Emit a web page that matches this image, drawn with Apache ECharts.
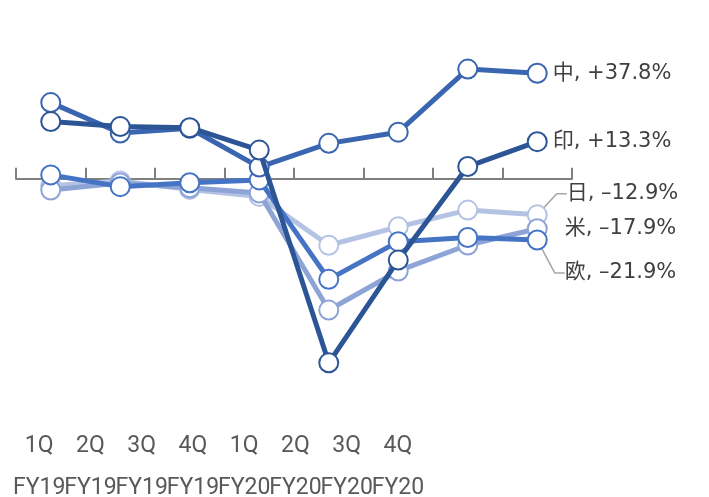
<!DOCTYPE html>
<html><head><meta charset="utf-8">
<script src="https://cdn.jsdelivr.net/npm/echarts@6/dist/echarts.min.js"></script>
<style>html,body{margin:0;padding:0;background:#fff;}#c{width:709px;height:497px;}</style>
</head><body><div id="c"></div>
<script>
const quarters = ['1Q','2Q','3Q','4Q','1Q','2Q','3Q','4Q'];
const years = ['FY19','FY19','FY19','FY19','FY20','FY20','FY20','FY20'];
const seriesNames = ['日','米','欧','中','印'];
const valJP = [-2.5, -0.8, -3.8, -6.3, -23.8, -17.2, -11.2, -12.9];
const valUS = [-4.0, -1.5, -3.2, -5.1, -47.0, -33.0, -23.7, -17.9];
const valEU = [1.4, -2.8, -1.4, -0.4, -36.0, -22.5, -21.0, -21.9];
const valCN = [27.3, 16.4, 18.1, 4.2, 12.7, 16.7, 39.3, 37.8];
const valIN = [20.5, 18.7, 18.3, 10.3, -65.9, -29.1, 4.4, 13.3];

const categories = quarters.map((q,i)=>q+'\n'+years[i]);
const values = [valJP, valUS, valEU, valCN, valIN];
const colors = ['#b4c2e4','#8ea4d6','#4674c4','#3a65b0','#2c5596'];
const labelShift = [[14,-21,true],[12,0,false],[12,33,true],[0,0,false],[0,0,false]];

function fmt(name, v){
  const s = v >= 0 ? '+' + v.toFixed(1) : '\u2013' + Math.abs(v).toFixed(1);
  return name + ', ' + s + '%';
}

const series = seriesNames.map((name, si) => {
  const vals = values[si];
  const sh = labelShift[si];
  const data = vals.map((v, i) => {
    if (i < vals.length - 1) return v;
    return {
      value: v,
      label: {show: true},
      labelLine: {show: sh[2]}
    };
  });
  return {
    name: name,
    type: 'line',
    xAxisIndex: 0, yAxisIndex: 0,
    data: data,
    symbol: 'circle',
    symbolSize: 19,
    z: 2 + si,
    lineStyle: {color: colors[si], width: 5},
    itemStyle: {color: '#ffffff', borderColor: colors[si], borderWidth: 2},
    label: {
      show: false,
      position: 'right',
      distance: 5,
      color: '#404040',
      fontSize: 21,
      fontFamily: 'DejaVu Sans, "Noto Sans CJK JP", sans-serif',
      formatter: p => fmt(name, p.value)
    },
    labelLine: {lineStyle: {color: '#a6a6a6', width: 1.5}, length2: 10},
    labelLayout: {dx: sh[0], dy: sh[1]},
    emphasis: {disabled: true}
  };
});

series.push({
  type: 'line', xAxisIndex: 1, yAxisIndex: 1,
  data: [], silent: true
});

const chart = echarts.init(document.getElementById('c'), null, {renderer: 'canvas'});
chart.setOption({
  animation: false,
  backgroundColor: '#ffffff',
  grid: [
    {left: 16, right: 137, top: 39.2, height: 363},
    {left: 13.5, width: 410, top: 415, height: 10}
  ],
  xAxis: [
    {
      type: 'category', gridIndex: 0, data: categories, boundaryGap: true,
      axisLine: {onZero: true, lineStyle: {color: '#808080', width: 2}},
      axisTick: {show: true, inside: true, length: 11, lineStyle: {color: '#808080', width: 2}},
      axisLabel: {show: false},
      splitLine: {show: false}
    },
    {
      type: 'category', gridIndex: 1, data: categories, boundaryGap: true,
      axisLine: {show: false}, axisTick: {show: false},
      axisLabel: {
        show: true, interval: 0, margin: 8,
        color: '#595959', fontSize: 23, lineHeight: 42,
        fontFamily: 'Roboto, sans-serif'
      }
    }
  ],
  yAxis: [
    {type: 'value', gridIndex: 0, min: -80, max: 50, show: false, splitLine: {show: false}},
    {type: 'value', gridIndex: 1, show: false, splitLine: {show: false}}
  ],
  series: series
});
</script>
</body></html>
